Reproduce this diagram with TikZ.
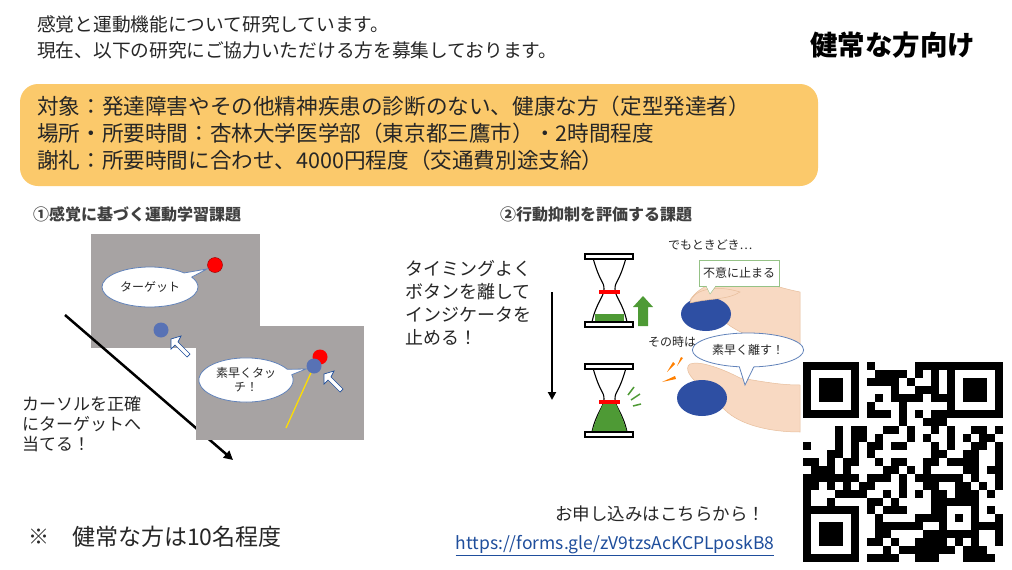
\documentclass[tikz,border=0pt]{standalone}
\usepackage{fontspec}
\setmainfont{Noto Sans CJK JP}
\usetikzlibrary{shapes.callouts,arrows.meta}
\definecolor{txt}{HTML}{262626}
\definecolor{orng}{HTML}{FBC96B}
\definecolor{panel}{HTML}{A7A3A3}
\definecolor{skin}{HTML}{F8D9C2}
\definecolor{mouse}{HTML}{2E4FA3}
\definecolor{grn}{HTML}{4E9A35}
\definecolor{lnk}{HTML}{1F4E9C}
\tikzset{
 fs/.style={font=\fontsize{#1}{#1}\selectfont},
 tx/.style={anchor=west,inner sep=0,text=txt},
 gl/.style={draw=black,line width=1.2pt,fill=white},
 bub/.style={ellipse callout,draw=lnk!70,fill=white,line width=0.8pt,align=center,text=txt,font=\fontsize{12}{14}\selectfont}
}
\begin{document}
\begin{tikzpicture}[x=1pt,y=-1pt]
\useasboundingbox (0,0) rectangle (1012,570);
\fill[white] (0,0) rectangle (1012,570);
% header
\node[tx,fs=18.7] (h1) at (37,24) {感覚と運動機能について研究しています。};
\node[tx,fs=18.7] (h2) at (37,50) {現在、以下の研究にご協力いただける方を募集しております。};
\node[tx,text=black,font=\fontsize{27.5}{28}\selectfont\bfseries] (h3) at (810,45) {健常な方向け};
% orange box
\fill[orng,rounded corners=18pt] (20,84) rectangle (818,186);
\node[tx,font=\fontsize{21.6}{22}\selectfont] (o1) at (37,106) {対象：発達障害やその他精神疾患の診断のない、健康な方（定型発達者）};
\node[tx,font=\fontsize{21.6}{22}\selectfont] (o2) at (37,133) {場所・所要時間：杏林大学医学部（東京都三鷹市）・2時間程度};
\node[tx,font=\fontsize{21.6}{22}\selectfont] (o3) at (37,160) {謝礼：所要時間に合わせ、4000円程度（交通費別途支給）};
% task 1
\node[tx,text=black!75,font=\fontsize{16}{16}\selectfont\bfseries] (t1) at (33,214) {①感覚に基づく運動学習課題};
\fill[panel] (91,234) rectangle (260,348);
\draw[line width=2.5pt,-{Triangle[length=9pt,width=9pt]}] (65,315) -- (233,460);
\fill[panel] (196,326) rectangle (364,440);
\fill[red] (215,265) circle (7.5); \draw[red!60!black] (215,265) circle (7.5);
\node[bub,minimum width=96pt,minimum height=40pt,callout absolute pointer={(207,269)}] (b1) at (150,287) {ターゲット};
\fill[mouse!80] (161,330) circle (7.5);
\draw[lnk,fill=white,line width=0.7pt] (171,339)--(181,336)--(178,342)--(190,354)--(187,357)--(175,345)--(171,349)--cycle;
\fill[red] (320,357) circle (7.5);
\draw[yellow!80!orange,line width=1.3pt] (314,366) -- (286,428);
\fill[mouse!80] (314,366) circle (7.5);
\draw[lnk,fill=white,line width=0.7pt] (324,374)--(334,371)--(331,377)--(343,389)--(340,392)--(328,380)--(324,384)--cycle;
\node[bub,minimum width=88pt,minimum height=44pt,callout absolute pointer={(306,369)}] (b2) at (246,380) {素早くタッ\\チ！};
\node[tx,align=left,anchor=north west,font=\fontsize{17}{20}\selectfont] (c1) at (22,396) {カーソルを正確\\にターゲットへ\\当てる！};
% task 2
\node[tx,text=black!75,font=\fontsize{16}{16}\selectfont\bfseries] (t2) at (500,214) {②行動抑制を評価する課題};
\node[tx,align=left,anchor=north west,font=\fontsize{18}{23}\selectfont] (c2) at (405,260) {タイミングよく\\ボタンを離して\\インジケータを\\止める！};
\draw[line width=2.2pt,-{Triangle[length=8pt,width=8pt]}] (552,292) -- (552,400);
% hourglasses
\foreach \y/\lev in {253/0,363/1}{
 \begin{scope}[shift={(0,\y)}]
 \draw[black,line width=1.1pt,fill=white] (593,5) .. controls (600,30) and (604,28) .. (604,36) .. controls (604,44) and (596,50) .. (592,69) -- (627,69) .. controls (623,50) and (615,44) .. (615,36) .. controls (615,28) and (619,30) .. (626,5);
 \ifnum\lev=0
  \fill[grn] (595,61) rectangle (624,68);
 \else
  \fill[grn] (603,41) -- (616,41) .. controls (620,50) and (623,56) .. (627,69) -- (592,69) .. controls (596,56) and (599,50) .. (603,41) -- cycle;
 \fi
 \draw[red,line width=3.5pt] (599,39) -- (620,39);
 \draw[gl] (585,1) rectangle (633,6);
 \draw[gl] (585,69) rectangle (633,74);
 \end{scope}}
\fill[grn] (638,326) -- (638,307) -- (633,307) -- (643,296) -- (653,307) -- (648,307) -- (648,326) -- cycle;
\draw[grn,line width=1.5pt] (628,395) -- (634,387) (631,400) -- (640,394) (633,406) -- (641,404);
% hands
\draw[skin!70!brown,fill=skin,line width=0.5pt] (690,300) .. controls (700,285) and (720,278) .. (745,280) .. controls (765,282) and (780,288) .. (800,292) -- (800,345) .. controls (770,345) and (740,335) .. (725,322) -- cycle;
\fill[mouse] (706,314) ellipse (25 and 17);
\draw[skin!70!brown,fill=skin,line width=0.5pt] (690,303) .. controls (692,290) and (715,284) .. (740,292) .. controls (728,300) and (710,298) .. (690,303);
\draw[skin!70!brown,fill=skin,line width=0.5pt] (690,364) .. controls (700,360) and (725,370) .. (740,378) .. controls (765,382) and (780,385) .. (800,385) -- (800,432) .. controls (770,432) and (740,425) .. (725,410) -- (700,385) .. controls (690,378) and (684,368) .. (690,364);
\fill[mouse] (702,398) ellipse (25 and 18);
\fill[orange] (667,372) -- (673,362) -- (675,364) -- cycle;
\fill[orange] (662,382) -- (675,376) -- (676,379) -- cycle;
\fill[orange] (677,366) -- (681,357) -- (683,358) -- cycle;
\node[tx,fs=12] (d1) at (668,245) {でもときどき…};
\node[draw=grn!60,fill=white,fs=12,text=txt,minimum width=80pt,minimum height=26pt,inner sep=1pt] (d2) at (739,273) {不意に止まる};
\fill[white] (706,285) -- (716,285) -- (710,294) -- cycle;
\draw[grn!60] (706,286) -- (710,294) -- (716,286);
\node[tx,fs=12] (d3) at (648,342) {その時は、};
\node[bub,minimum width=90pt,minimum height=34pt,callout absolute pointer={(745,385)}] (b3) at (748,350) {素早く離す！};
% bottom
\node[tx,font=\fontsize{21}{21}\selectfont] (n0) at (28,537) {※};
\node[tx,font=\fontsize{23}{23}\selectfont] (n1) at (72,537) {健常な方は10名程度};
\node[inner sep=0,text=txt,font=\fontsize{17.5}{18}\selectfont] (n2) at (660,514) {お申し込みはこちらから！};
\node[inner sep=0,text=lnk,font=\fontsize{17.5}{18}\selectfont] (n3) at (615,546) {\underline{https://forms.gle/zV9tzsAcKCPLposkB8}};
% QR
\begin{scope}[shift={(803,362)}]
 \fill[white] (0,0) rectangle (200,200);
 \pgfmathsetseed{7}
 \foreach \i in {0,...,24}{\foreach \j in {0,...,24}{
   \pgfmathparse{rnd<0.5?1:0}
   \ifnum\pgfmathresult=1 \fill[black] (\i*8,\j*8) rectangle ++(8,8);\fi}}
 \foreach \px/\py in {0/0,144/0,0/144}{
  \fill[white] (\px,\py) rectangle ++(64,64);
  \fill[black] (\px,\py) rectangle ++(56,56);
  \fill[white] (\px+8,\py+8) rectangle ++(40,40);
  \fill[black] (\px+16,\py+16) rectangle ++(24,24);}
 \fill[black] (136,136) rectangle ++(40,40);
 \fill[white] (144,144) rectangle ++(24,24);
 \fill[black] (152,152) rectangle ++(8,8);
\end{scope}
\end{tikzpicture}
\end{document}
